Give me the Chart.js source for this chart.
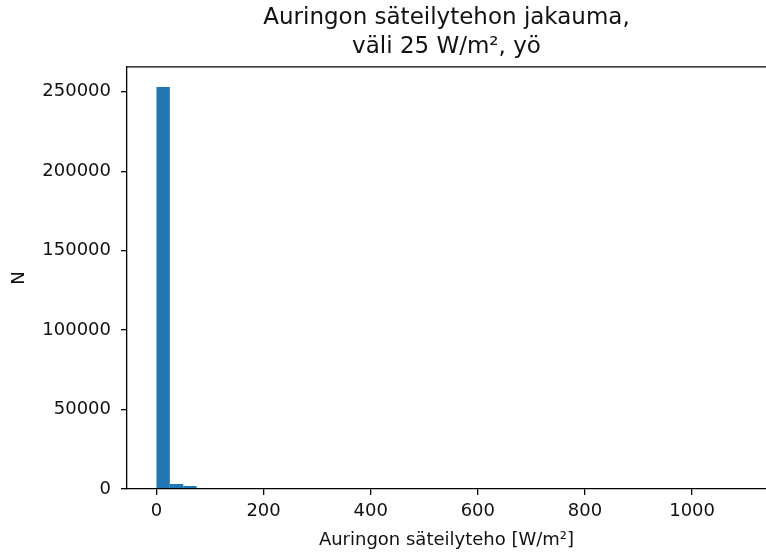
<!DOCTYPE html>
<html>
<head>
<meta charset="utf-8">
<script src="https://cdn.jsdelivr.net/npm/chart.js@4.4.1/dist/chart.umd.min.js"></script>
<style>
  html, body { margin: 0; padding: 0; background: #ffffff; }
  #wrap { width: 766px; height: 552px; }
</style>
</head>
<body>
<div id="wrap"><canvas id="c" width="766" height="552"></canvas></div>
<script>
// Histogram of night-time solar irradiance, 25 W/m² bins from 0 to 1100
const binWidth = 25;
const binStarts = [
  0, 25, 50, 75, 100, 125, 150, 175, 200, 225, 250, 275, 300, 325, 350, 375,
  400, 425, 450, 475, 500, 525, 550, 575, 600, 625, 650, 675, 700, 725, 750, 775,
  800, 825, 850, 875, 900, 925, 950, 975, 1000, 1025, 1050, 1075
];
const counts = [
  253000, 3150, 1900, 140, 70, 40, 25, 15, 10, 7, 5, 4, 3, 2, 2, 1,
  1, 1, 0, 1, 0, 0, 1, 0, 0, 0, 0, 0, 0, 0, 0, 0,
  0, 0, 0, 0, 0, 0, 0, 0, 0, 0, 0, 1
];
const xTicks = [0, 200, 400, 600, 800, 1000];
const yTicks = [0, 50000, 100000, 150000, 200000, 250000];

const titleLines = ['Auringon säteilytehon jakauma,', 'väli 25 W/m², yö'];
const xLabel = 'Auringon säteilyteho [W/m²]';
const yLabel = 'N';

const points = binStarts.map((s, i) => ({ x: s + binWidth / 2, y: counts[i] }));

// top frame line of the plot area
const frameTop = {
  id: 'frameTop',
  afterDraw(chart) {
    const { ctx, chartArea } = chart;
    ctx.save();
    ctx.strokeStyle = '#000';
    ctx.lineWidth = 1.3;
    ctx.beginPath();
    ctx.moveTo(chartArea.left, chartArea.top);
    ctx.lineTo(chartArea.right, chartArea.top);
    ctx.stroke();
    ctx.restore();
  }
};

Chart.defaults.font.family = '"DejaVu Sans", sans-serif';
Chart.defaults.color = '#111';

new Chart(document.getElementById('c'), {
  type: 'bar',
  data: {
    datasets: [{
      data: points,
      backgroundColor: '#1f77b4',
      borderWidth: 0,
      inflateAmount: 0,
      categoryPercentage: 1.0,
      barPercentage: 1.0
    }]
  },
  options: {
    responsive: false,
    animation: false,
    devicePixelRatio: 1,
    layout: { padding: { left: 0, right: 0, top: 0, bottom: 0 } },
    plugins: {
      legend: { display: false },
      tooltip: { enabled: false },
      title: {
        display: true,
        text: titleLines,
        fullSize: false,
        font: { size: 23, weight: 'normal', lineHeight: 1.26 },
        color: '#111',
        padding: { top: 4, bottom: 5 }
      }
    },
    scales: {
      x: {
        type: 'linear',
        min: -55,
        max: 1138,
        offset: false,
        afterBuildTicks(scale) { scale.ticks = xTicks.map(v => ({ value: v })); },
        afterFit(scale) { scale.height = 63; },
        ticks: {
          font: { size: 18 },
          padding: 6,
          maxRotation: 0,
          callback: v => String(v)
        },
        grid: {
          offset: false,
          drawOnChartArea: false,
          drawTicks: true,
          tickLength: 6,
          color: '#000',
          lineWidth: 1.3
        },
        border: { display: true, color: '#000', width: 1.3, z: 1 },
        title: {
          display: true,
          text: xLabel,
          font: { size: 18 },
          color: '#111',
          padding: { top: 0, bottom: 1 }
        }
      },
      y: {
        min: 0,
        max: 265650,
        afterBuildTicks(scale) { scale.ticks = yTicks.map(v => ({ value: v })); },
        afterFit(scale) { scale.width = 127; },
        ticks: {
          font: { size: 18 },
          padding: 10,
          callback: v => String(v)
        },
        grid: {
          drawOnChartArea: false,
          drawTicks: true,
          tickLength: 6,
          color: '#000',
          lineWidth: 1.3
        },
        border: { display: true, color: '#000', width: 1.3, z: 1 },
        title: {
          display: true,
          text: yLabel,
          font: { size: 18 },
          color: '#111',
          padding: { top: 9, bottom: 0 }
        }
      }
    }
  },
  plugins: [frameTop]
});
</script>
</body>
</html>
